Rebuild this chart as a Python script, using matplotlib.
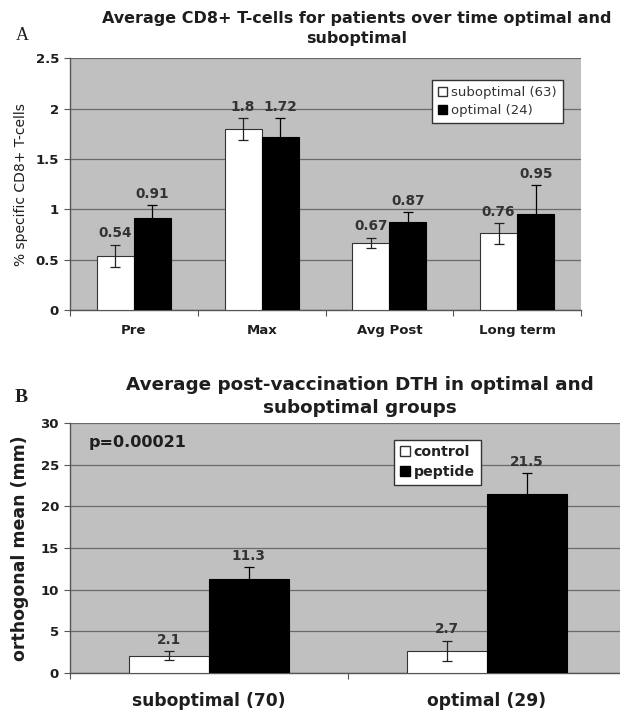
import matplotlib.pyplot as plt
import matplotlib.patches as mpatches
import numpy as np

# panel A data
cats_a = ["Pre", "Max", "Avg Post", "Long term"]
subopt_a = [0.54, 1.80, 0.67, 0.76]
subopt_a_err = [0.11, 0.11, 0.05, 0.10]
opt_a = [0.91, 1.72, 0.87, 0.95]
opt_a_err = [0.13, 0.19, 0.10, 0.29]

# panel B data
cats_b = ["suboptimal (70)", "optimal (29)"]
control_b = [2.1, 2.7]
control_b_err = [0.5, 1.2]
peptide_b = [11.3, 21.5]
peptide_b_err = [1.4, 2.5]

GRAY_BG = "#c0c0c0"
GRID = "#6a6a6a"
TXT = "#1e1e1e"
SANS = ["DejaVu Sans"]

fig = plt.figure(figsize=(6.2, 7.13), dpi=100)


def style_axes(ax, ymax, ystep, ncat, tick_fs, xtick_fs, xpad):
    ax.set_facecolor(GRAY_BG)
    ax.set_xlim(-0.5, ncat - 0.5)
    ax.set_ylim(0, ymax)
    ax.set_yticks(np.arange(0, ymax + ystep / 2, ystep))
    ax.yaxis.grid(True, color=GRID, linewidth=0.9)
    ax.set_axisbelow(True)
    for s in ["top", "right"]:
        ax.spines[s].set_visible(False)
    for s in ["left", "bottom"]:
        ax.spines[s].set_color("#555555")
        ax.spines[s].set_linewidth(1.0)
    ax.tick_params(axis="y", length=4, color="#555555", pad=4,
                   labelsize=tick_fs, labelcolor=TXT)
    # category boundary ticks, labels at centres
    ax.set_xticks(np.arange(-0.5, ncat, 1.0))
    ax.set_xticklabels([])
    ax.tick_params(axis="x", which="major", length=4, color="#555555")
    ax.set_xticks(np.arange(ncat), minor=True)
    ax.tick_params(axis="x", which="minor", length=0, pad=xpad,
                   labelsize=xtick_fs, labelcolor=TXT)


def label_bars(ax, xs, vals, errs, fs):
    for x, v, e in zip(xs, vals, errs):
        ax.annotate(f"{v:g}", (x, v + e), xytext=(0, 3), textcoords="offset points",
                    ha="center", va="bottom", fontsize=fs, fontweight="bold",
                    color="#333333", family=SANS)


err_white = dict(ecolor="#222222", elinewidth=0.9, capsize=3.5, capthick=0.9)
err_black = dict(ecolor="black", elinewidth=0.9, capsize=3.5, capthick=0.9)

# ── Panel A ──────────────────────────────────────────────────────────────
axA = fig.add_axes([70 / 620, 1 - 310 / 713, 511 / 620, 251.7 / 713])
x = np.arange(len(cats_a))
w = 0.29
axA.bar(x - w / 2, subopt_a, w, yerr=subopt_a_err, color="white",
        edgecolor="#333333", linewidth=0.8, error_kw=err_white, zorder=3)
axA.bar(x + w / 2, opt_a, w, yerr=opt_a_err, color="black",
        edgecolor="black", linewidth=0.8, error_kw=err_black, zorder=3)
style_axes(axA, 2.5, 0.5, len(cats_a), 9.5, 9.5, 10)
axA.set_yticklabels(["0", "0.5", "1", "1.5", "2", "2.5"], fontweight="bold")
axA.set_xticklabels(cats_a, minor=True, fontweight="bold")
label_bars(axA, x - w / 2, subopt_a, subopt_a_err, 9.8)
label_bars(axA, x + w / 2, opt_a, opt_a_err, 9.8)
axA.set_ylabel("% specific CD8+ T-cells", fontsize=10, color=TXT, labelpad=5)

handlesA = [mpatches.Patch(facecolor="white", edgecolor="#333333", label="suboptimal (63)"),
            mpatches.Patch(facecolor="black", edgecolor="black", label="optimal (24)")]
legA = axA.legend(handles=handlesA, loc="upper left", bbox_to_anchor=(0.696, 0.94),
                  fontsize=9.5, frameon=True, fancybox=False, handlelength=0.7,
                  handleheight=0.7, handletextpad=0.3, borderpad=0.45,
                  labelspacing=0.4, labelcolor="#333333", framealpha=1)
legA.get_frame().set_edgecolor("#333333")
legA.get_frame().set_linewidth(1.0)

fig.text(357 / 620, 1 - 18 / 713, "Average CD8+ T-cells for patients over time optimal and",
         ha="center", va="center", fontsize=11.5, fontweight="bold", color=TXT)
fig.text(357 / 620, 1 - 39 / 713, "suboptimal", ha="center", va="center",
         fontsize=11.5, fontweight="bold", color=TXT)
fig.text(22 / 620, 1 - 36 / 713, "A", ha="center", va="center", fontsize=13,
         family="Liberation Serif", color=TXT)

# ── Panel B ──────────────────────────────────────────────────────────────
axB = fig.add_axes([70 / 620, 1 - 673 / 713, 556 / 620, 250 / 713])
xb = np.arange(len(cats_b))
wb = 0.287
axB.bar(xb - wb / 2, control_b, wb, yerr=control_b_err, color="white",
        edgecolor="#333333", linewidth=0.8, error_kw=err_white, zorder=3)
axB.bar(xb + wb / 2, peptide_b, wb, yerr=peptide_b_err, color="black",
        edgecolor="black", linewidth=0.8, error_kw=err_black, zorder=3)
style_axes(axB, 30, 5, len(cats_b), 9.5, 12.3, 14)
axB.set_yticklabels([str(v) for v in range(0, 31, 5)], fontweight="bold")
axB.set_xticklabels(cats_b, minor=True, fontweight="bold")
label_bars(axB, xb - wb / 2, control_b, control_b_err, 9.8)
label_bars(axB, xb + wb / 2, peptide_b, peptide_b_err, 9.8)
axB.set_ylabel("orthogonal mean (mm)", fontsize=12.5, fontweight="bold",
               color=TXT, labelpad=8)
axB.text(0.033, 0.92, "p=0.00021", transform=axB.transAxes, ha="left", va="center",
         fontsize=11.5, fontweight="bold", color=TXT)

handlesB = [mpatches.Patch(facecolor="white", edgecolor="#333333", label="control"),
            mpatches.Patch(facecolor="black", edgecolor="black", label="peptide")]
legB = axB.legend(handles=handlesB, loc="upper left", bbox_to_anchor=(0.57, 0.962),
                  prop=dict(size=10.2, weight="bold"), frameon=True, fancybox=False,
                  handlelength=0.7, handleheight=0.7, handletextpad=0.3,
                  borderpad=0.4, labelspacing=0.4, labelcolor="#222222", framealpha=1)
legB.get_frame().set_edgecolor("#333333")
legB.get_frame().set_linewidth(1.0)

fig.text(360 / 620, 1 - 385 / 713, "Average post-vaccination DTH in optimal and",
         ha="center", va="center", fontsize=13.2, fontweight="bold", color=TXT)
fig.text(360 / 620, 1 - 408 / 713, "suboptimal groups", ha="center", va="center",
         fontsize=13.2, fontweight="bold", color=TXT)
fig.text(21 / 620, 1 - 397 / 713, "B", ha="center", va="center", fontsize=14,
         fontweight="bold", family="Liberation Serif", color=TXT)

plt.savefig("out.png", dpi=100)
